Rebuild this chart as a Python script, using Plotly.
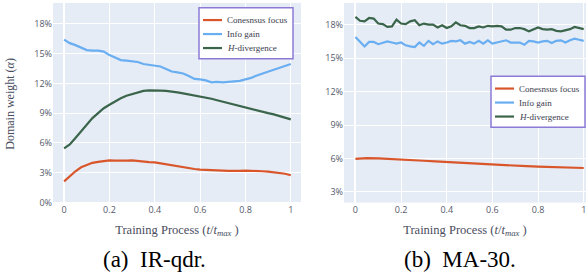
import plotly.graph_objects as go

# ---------------- data ----------------
# (a) IR-qdr.
x_a = [i * 0.025 for i in range(41)]
consensus_a = [2.13, 2.65, 3.15, 3.55, 3.8, 4.0, 4.1, 4.18, 4.24, 4.22, 4.2, 4.22, 4.25, 4.18, 4.1,
               4.08, 4.05, 3.95, 3.85, 3.75, 3.62, 3.55, 3.45, 3.38, 3.32, 3.28, 3.25, 3.23, 3.22, 3.2,
               3.18, 3.2, 3.22, 3.22, 3.2, 3.15, 3.12, 3.06, 3.0, 2.9, 2.75]
info_a = [16.4, 16.05, 15.85, 15.6, 15.35, 15.3, 15.3, 15.2, 14.85, 14.6, 14.35, 14.3, 14.25, 14.15,
          13.95, 13.85, 13.75, 13.7, 13.45, 13.2, 13.1, 13.0, 12.75, 12.45, 12.4, 12.3, 12.1, 12.15,
          12.1, 12.15, 12.2, 12.25, 12.4, 12.55, 12.8, 13.0, 13.2, 13.4, 13.6, 13.8, 13.95]
hdiv_a = [5.46, 5.85, 6.5, 7.2, 7.9, 8.5, 9.0, 9.5, 9.85, 10.2, 10.5, 10.75, 10.9, 11.1, 11.25, 11.3,
          11.32, 11.28, 11.25, 11.2, 11.1, 11.0, 10.9, 10.8, 10.65, 10.55, 10.45, 10.3, 10.15, 10.0,
          9.88, 9.75, 9.6, 9.45, 9.3, 9.15, 9.0, 8.88, 8.72, 8.55, 8.38]

# (b) MA-30.
x_b = [i * 0.02 for i in range(51)]
x_b_cons = [i * 0.05 for i in range(21)]
consensus_b = [5.97, 6.03, 6.02, 5.98, 5.92, 5.86, 5.8, 5.74, 5.68, 5.62, 5.58, 5.52, 5.47, 5.42, 5.36,
               5.31, 5.27, 5.23, 5.2, 5.16, 5.15]
info_b = [16.9, 16.45, 16.05, 16.45, 16.45, 16.25, 16.4, 16.5, 16.4, 16.3, 16.4, 16.15, 16.05, 16.0,
          16.4, 16.1, 16.55, 16.25, 16.5, 16.3, 16.4, 16.55, 16.5, 16.6, 16.3, 16.45, 16.3, 16.55, 16.3,
          16.6, 16.3, 16.4, 16.55, 16.6, 16.4, 16.4, 16.4, 16.2, 16.55, 16.5, 16.4, 16.5, 16.55, 16.35,
          16.55, 16.6, 16.4, 16.6, 16.75, 16.65, 16.55]
hdiv_b = [18.7, 18.35, 18.3, 18.6, 18.55, 18.1, 18.05, 17.8, 17.85, 18.45, 18.1, 18.05, 18.3, 18.4,
          17.95, 18.1, 18.0, 18.0, 17.75, 17.95, 17.7, 17.85, 18.2, 17.95, 17.9, 17.7, 17.7, 17.85, 17.75,
          17.9, 17.85, 17.9, 17.85, 17.55, 17.55, 17.7, 17.7, 17.6, 17.4, 17.55, 17.75, 17.6, 17.55, 17.6,
          17.45, 17.4, 17.5, 17.6, 17.8, 17.7, 17.6]

names = ["Conesnsus focus", "Info gain", "<i>H</i>-divergence"]
colors = ["#D9552A", "#6AAEF2", "#3B654B"]

x_ticks = [0, 0.2, 0.4, 0.6, 0.8, 1]
x_ticktext = ["0", "0.2", "0.4", "0.6", "0.8", "1"]
y_ticks_a = [0, 3, 6, 9, 12, 15, 18]
y_ticks_b = [3, 6, 9, 12, 15, 18]

# ---------------- figure ----------------
W, H = 588, 280
fig = go.Figure()
serif = "Liberation Serif, Times New Roman, serif"
tickfont = dict(family="Open Sans, sans-serif", size=9, color="#555a6a")

for xs, ys, n, c in [(x_a, consensus_a, names[0], colors[0]),
                     (x_a, info_a, names[1], colors[1]),
                     (x_a, hdiv_a, names[2], colors[2])]:
    fig.add_trace(go.Scatter(x=xs, y=ys, name=n, mode="lines", line=dict(color=c, width=2.2),
                             xaxis="x", yaxis="y", showlegend=False))
for xs, ys, n, c in [(x_b_cons, consensus_b, names[0], colors[0]),
                     (x_b, info_b, names[1], colors[1]),
                     (x_b, hdiv_b, names[2], colors[2])]:
    fig.add_trace(go.Scatter(x=xs, y=ys, name=n, mode="lines", line=dict(color=c, width=2.2),
                             xaxis="x2", yaxis="y2", showlegend=False))

axis_common = dict(showgrid=True, gridcolor="white", gridwidth=1, zeroline=True,
                   zerolinecolor="white", zerolinewidth=2, tickfont=tickfont, ticks="",
                   showline=False)

xtitle = dict(text="Training Process (<i>t</i>/<i>t</i><sub><i>max</i></sub> )",
              font=dict(family=serif, size=12.5, color="#4a4d5e"), standoff=10)


def px(x):
    return x / W


def py(y):
    return 1 - y / H


# manual legends (box + line glyphs + labels)
shapes = []
annotations = []
for (bx, by) in [(199, 8), (491, 78)]:
    shapes.append(dict(type="rect", xref="paper", yref="paper",
                       x0=px(bx), x1=px(bx + 94), y0=py(by), y1=py(by + 52),
                       fillcolor="white", line=dict(color="#8C7BD6", width=1.5), layer="above"))
    for i, (n, c) in enumerate(zip(names, colors)):
        yy = by + 12.5 + i * 14.3
        shapes.append(dict(type="line", xref="paper", yref="paper",
                           x0=px(bx + 4), x1=px(bx + 23), y0=py(yy), y1=py(yy),
                           line=dict(color=c, width=2.2), layer="above"))
        annotations.append(dict(text=n, xref="paper", yref="paper", x=px(bx + 26), y=py(yy),
                                xanchor="left", yanchor="middle", showarrow=False,
                                font=dict(family=serif, size=9, color="#3a3d4e")))

annotations += [
    dict(text="Domain weight (<i>α</i>)", xref="paper", yref="paper", x=px(10), y=py(106),
         xanchor="center", yanchor="middle", showarrow=False, textangle=-90,
         font=dict(family=serif, size=12, color="#4a4d5e")),
    dict(text="(a)  IR-qdr.", xref="paper", yref="paper", x=px(154), y=py(265),
         xanchor="center", yanchor="middle", showarrow=False,
         font=dict(family=serif, size=23, color="black")),
    dict(text="(b)  MA-30.", xref="paper", yref="paper", x=px(460), y=py(265),
         xanchor="center", yanchor="middle", showarrow=False,
         font=dict(family=serif, size=23, color="black")),
]

fig.update_layout(
    width=W, height=H,
    margin=dict(l=0, r=0, t=0, b=0),
    paper_bgcolor="white", plot_bgcolor="#E5ECF6",
    showlegend=False,
    xaxis=dict(domain=[px(53), px(301)], range=[-0.049, 1.045], tickvals=x_ticks,
               ticktext=x_ticktext, anchor="y", title=xtitle, **axis_common),
    yaxis=dict(domain=[py(207), py(3)], range=[0, 20.1], tickvals=y_ticks_a,
               ticktext=[f"{v}%" for v in y_ticks_a], anchor="x", **axis_common),
    xaxis2=dict(domain=[px(344), px(586)], range=[-0.05, 1.01], tickvals=x_ticks,
                ticktext=x_ticktext, anchor="y2", title=xtitle, **axis_common),
    yaxis2=dict(domain=[py(207), py(3)], range=[2.05, 19.95], tickvals=y_ticks_b,
                ticktext=[f"{v}%" for v in y_ticks_b], anchor="x2", **axis_common),
    shapes=shapes,
    annotations=annotations,
)

fig.write_html("out.html", config={"displayModeBar": False},
               post_script="document.body.style.margin='0';document.body.style.overflow='hidden';")
